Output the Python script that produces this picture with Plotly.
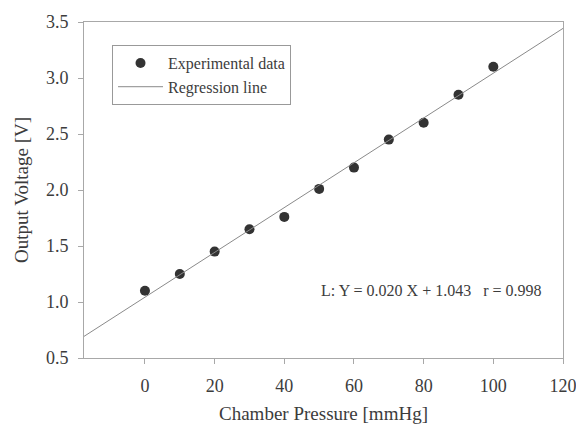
import plotly.graph_objects as go

pressure = [0, 10, 20, 30, 40, 50, 60, 70, 80, 90, 100]
voltage = [1.10, 1.25, 1.45, 1.65, 1.76, 2.01, 2.20, 2.45, 2.60, 2.85, 3.10]

reg_x = [-17.5, 120]
reg_y = [0.693, 3.443]

x_ticks = [0, 20, 40, 60, 80, 100, 120]
y_ticks = [0.5, 1.0, 1.5, 2.0, 2.5, 3.0, 3.5]

font_family = "Liberation Serif, Times New Roman, serif"
axis_col = "#a8a8a8"
text_col = "#3c3c3c"

fig = go.Figure()
fig.add_trace(go.Scatter(
    x=pressure, y=voltage, mode="markers", name="Experimental data",
    marker=dict(color="#333333", size=10),
))
fig.add_trace(go.Scatter(
    x=reg_x, y=reg_y, mode="lines", name="Regression line",
    line=dict(color="#8a8a8a", width=1),
))

fig.add_annotation(
    x=50, y=1.10, xref="x", yref="y", xanchor="left", yanchor="middle",
    text="L: Y = 0.020 X + 1.043   r = 0.998", showarrow=False,
    font=dict(family=font_family, size=16, color=text_col),
)

fig.update_layout(
    width=576, height=425,
    margin=dict(l=84, r=13, t=22, b=67),
    paper_bgcolor="white", plot_bgcolor="white",
    font=dict(family=font_family, size=18, color=text_col),
    showlegend=True,
    legend=dict(
        x=0.0585, y=0.9315, xanchor="left", yanchor="top",
        bordercolor="#999999", borderwidth=1, bgcolor="white",
        font=dict(family=font_family, size=16, color=text_col),
        itemwidth=45, tracegroupgap=0,
    ),
    xaxis=dict(
        range=[-17.5, 120], tickvals=x_ticks, ticktext=[str(v) for v in x_ticks],
        showgrid=False, zeroline=False, showline=True, linecolor=axis_col,
        linewidth=1, mirror=True, ticks="outside", ticklen=5, tickcolor=axis_col,
        automargin=False, ticklabelstandoff=6, ticklabeloverflow="allow",
        title=dict(text="Chamber Pressure [mmHg]", standoff=12,
                   font=dict(family=font_family, size=19, color=text_col)),
        tickfont=dict(family=font_family, size=18, color=text_col),
    ),
    yaxis=dict(
        range=[0.5, 3.5], tickvals=y_ticks, ticktext=[f"{v:.1f}" for v in y_ticks],
        showgrid=False, zeroline=False, showline=True, linecolor=axis_col,
        linewidth=1, mirror=True, ticks="outside", ticklen=5, tickcolor=axis_col,
        automargin=False, ticklabelstandoff=6, ticklabeloverflow="allow",
        title=dict(text="Output Voltage [V]", standoff=12,
                   font=dict(family=font_family, size=19, color=text_col)),
        tickfont=dict(family=font_family, size=18, color=text_col),
    ),
)

fig.write_html(
    "out.html",
    config={"displayModeBar": False},
    post_script="document.body.style.margin='0';document.body.style.padding='0';",
)
